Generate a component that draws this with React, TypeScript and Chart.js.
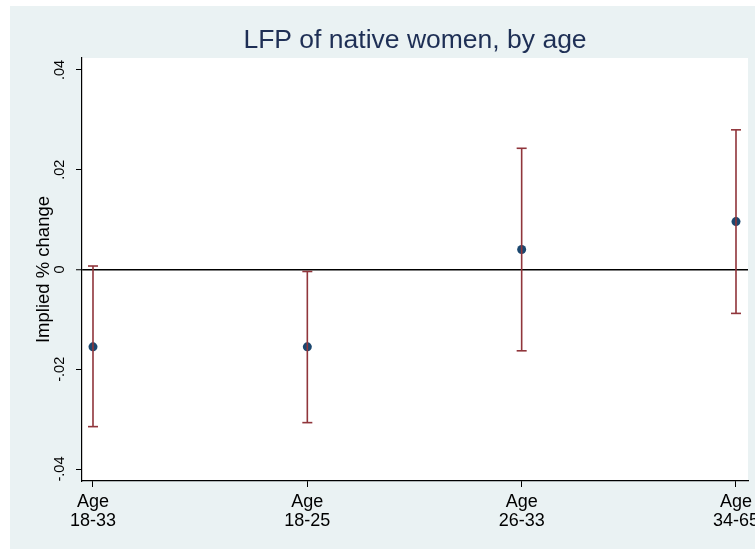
import React, { useEffect, useRef } from 'react';
import { Chart, registerables } from 'chart.js';

Chart.register(...registerables);

// ---- Data ----
const categories: string[][] = [
  ['Age', '18-33'],
  ['Age', '18-25'],
  ['Age', '26-33'],
  ['Age', '34-65'],
];
const xPositions = [1, 2, 3, 4];
const estimates = [-0.0155, -0.0155, 0.004, 0.0096];
const lowerCI = [-0.0315, -0.0307, -0.0163, -0.0088];
const upperCI = [0.0007, -0.0004, 0.0243, 0.028];
const yTickValues = [-0.04, -0.02, 0, 0.02, 0.04];
const yTickLabels = ['-.04', '-.02', '0', '.02', '.04'];
const titleText = 'LFP of native women, by age';
const yTitleText = 'Implied % change';

const FONT = '"Liberation Sans", Arial, Helvetica, sans-serif';
const NAVY = '#1A476F';
const MAROON = '#90353B';
const BG = '#EAF2F3';

const backgroundPlugin = {
  id: 'stataBackground',
  beforeDraw(chart: any) {
    const { ctx, chartArea } = chart;
    ctx.save();
    ctx.fillStyle = '#ffffff';
    ctx.fillRect(0, 0, chart.width, chart.height);
    ctx.fillStyle = BG;
    ctx.fillRect(10, 6, chart.width - 10, 543);
    ctx.fillStyle = '#ffffff';
    ctx.fillRect(chartArea.left, chartArea.top, chartArea.right - chartArea.left, chartArea.bottom - chartArea.top);
    ctx.restore();
  },
};

export default function App() {
  const canvasRef = useRef<HTMLCanvasElement | null>(null);

  useEffect(() => {
    if (!canvasRef.current) return;

    const errData: any[] = [];
    xPositions.forEach((x, i) => {
      errData.push({ x, y: lowerCI[i] });
      errData.push({ x, y: upperCI[i] });
      errData.push({ x, y: null });
    });
    const pointData = xPositions.map((x, i) => ({ x, y: estimates[i] }));

    const chart = new Chart(canvasRef.current, {
      type: 'scatter',
      data: {
        datasets: [
          {
            label: 'CI',
            data: errData,
            showLine: true,
            spanGaps: false,
            borderColor: MAROON,
            borderWidth: 1.6,
            pointStyle: 'line',
            pointRadius: 5,
            pointBorderColor: MAROON,
            pointBorderWidth: 1.6,
            pointBackgroundColor: MAROON,
            order: 0,
          } as any,
          {
            label: 'Estimate',
            data: pointData,
            pointRadius: 4.5,
            pointBackgroundColor: NAVY,
            pointBorderColor: NAVY,
            pointBorderWidth: 0,
            showLine: false,
            order: 1,
          } as any,
        ],
      },
      options: {
        animation: false,
        responsive: false,
        events: [],
        layout: { padding: { left: 10, top: 0, right: 7, bottom: 0 } },
        plugins: {
          legend: { display: false },
          tooltip: { enabled: false },
          title: {
            display: true,
            text: titleText,
            fullSize: false,
            color: '#1E2F55',
            font: { family: FONT, size: 26.5, weight: 'normal', lineHeight: 1 },
            padding: { top: 27, bottom: 4.5 },
          },
        },
        scales: {
          x: {
            type: 'linear',
            position: 'bottom',
            min: 0.9487,
            max: 4.056,
            afterBuildTicks: (scale: any) => {
              scale.ticks = xPositions.map((v) => ({ value: v }));
            },
            afterFit: (scale: any) => {
              scale.height = 69;
              scale.paddingLeft = 0;
              scale.paddingRight = 0;
            },
            grid: {
              drawOnChartArea: false,
              drawTicks: true,
              tickLength: 6,
              tickColor: '#000',
              tickWidth: 1,
            },
            border: { display: true, color: '#000', width: 1.2 },
            ticks: {
              autoSkip: false,
              maxRotation: 0,
              minRotation: 0,
              padding: 5,
              color: '#000',
              font: { family: FONT, size: 18, lineHeight: 1.06 },
              callback: (value: any) => {
                const i = xPositions.indexOf(Number(value));
                return i >= 0 ? categories[i] : '';
              },
            },
          },
          y: {
            type: 'linear',
            position: 'left',
            min: -0.0424,
            max: 0.0424,
            afterBuildTicks: (scale: any) => {
              scale.ticks = yTickValues.map((v) => ({ value: v }));
            },
            afterFit: (scale: any) => {
              scale.width = 72;
              scale.paddingTop = 0;
              scale.paddingBottom = 0;
            },
            grid: {
              drawOnChartArea: true,
              drawTicks: true,
              tickLength: 6,
              tickColor: '#000',
              tickWidth: 1,
              color: (ctx: any) => (ctx.tick && ctx.tick.value === 0 ? '#000' : 'rgba(0,0,0,0)'),
              lineWidth: (ctx: any) => (ctx.tick && ctx.tick.value === 0 ? 1.5 : 1),
            },
            border: { display: true, color: '#000', width: 1.2 },
            title: {
              display: true,
              text: yTitleText,
              color: '#000',
              font: { family: FONT, size: 18.5, lineHeight: 1.2 },
              padding: { top: 23, bottom: 0 },
            },
            ticks: {
              minRotation: 90,
              maxRotation: 90,
              crossAlign: 'center',
              padding: 4,
              color: '#000',
              font: { family: FONT, size: 14.5 },
              callback: (value: any) => {
                const i = yTickValues.indexOf(Number(value));
                return i >= 0 ? yTickLabels[i] : '';
              },
            },
          },
        },
      } as any,
      plugins: [backgroundPlugin],
    });

    return () => {
      chart.destroy();
    };
  }, []);

  return (
    <div style={{ position: 'absolute', left: 0, top: 0, width: 755, height: 550, background: '#fff' }}>
      <canvas ref={canvasRef} width={755} height={550} style={{ display: 'block', width: 755, height: 550 }} />
    </div>
  );
}
